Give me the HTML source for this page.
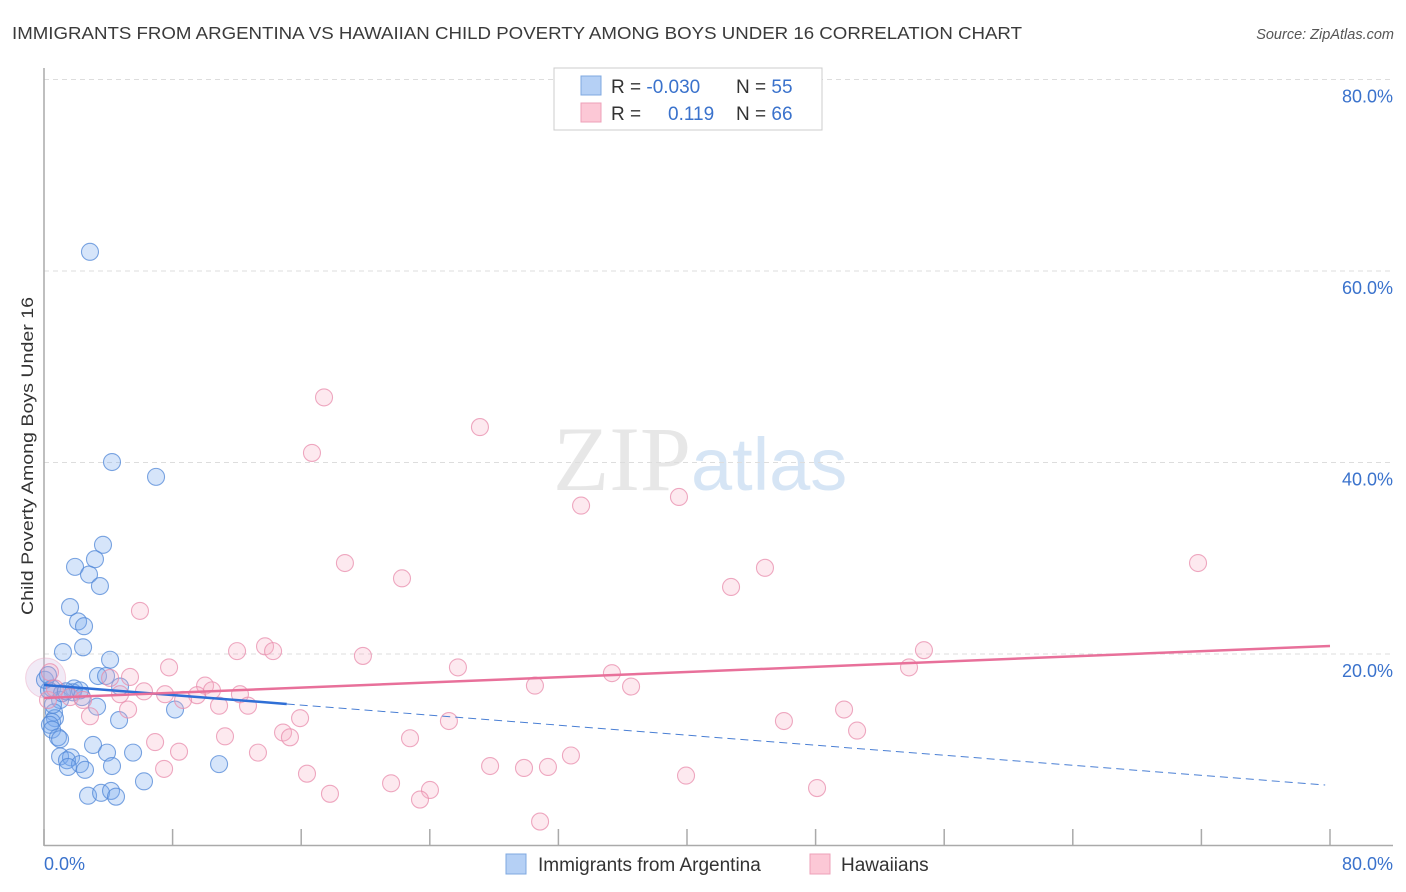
<!DOCTYPE html>
<html><head><meta charset="utf-8"><style>
body{margin:0;background:#fff;font-family:"Liberation Sans",sans-serif;}
svg{display:block}
</style></head><body>
<svg id="chart" width="1406" height="892" xmlns="http://www.w3.org/2000/svg">
<text x="12" y="39" font-size="17.5" fill="#3a3a3a" textLength="1010" lengthAdjust="spacingAndGlyphs">IMMIGRANTS FROM ARGENTINA VS HAWAIIAN CHILD POVERTY AMONG BOYS UNDER 16 CORRELATION CHART</text>
<text x="1394" y="39" font-size="14.5" fill="#555" text-anchor="end" font-style="italic">Source: ZipAtlas.com</text>
<text x="553" y="490" font-size="92" font-family="Liberation Serif" fill="#e2e2e2" opacity="0.8">ZIP<tspan fill="#cddff3" font-family="Liberation Sans" font-size="74">atlas</tspan></text>
<g id="grid"></g>
<g id="axes"></g>
<g id="pts"></g>
<g id="trend"></g>
<text transform="translate(33,456) rotate(-90)" font-size="17" fill="#333" text-anchor="middle" textLength="318" lengthAdjust="spacingAndGlyphs">Child Poverty Among Boys Under 16</text>
<g>
<rect x="554" y="68" width="268" height="62" fill="#fff" stroke="#ccc"/>
<rect x="581" y="76" width="20" height="19" fill="#b5d0f5" stroke="#7fa8e0"/>
<rect x="581" y="103" width="20" height="19" fill="#fcc8d6" stroke="#eea0b8"/>
<text x="611" y="93" font-size="19" fill="#333">R = <tspan fill="#3a72cc">-0.030</tspan><tspan x="736">N = </tspan><tspan fill="#3a72cc">55</tspan></text>
<text x="611" y="120" font-size="19" fill="#333">R = <tspan x="668" fill="#3a72cc">0.119</tspan><tspan x="736">N = </tspan><tspan fill="#3a72cc">66</tspan></text>
</g>
<g>
<rect x="506" y="854" width="20" height="20" fill="#b5d0f5" stroke="#7fa8e0"/>
<text x="538" y="871" font-size="19" fill="#333">Immigrants from Argentina</text>
<rect x="810" y="854" width="20" height="20" fill="#fcc8d6" stroke="#eea0b8"/>
<text x="841" y="871" font-size="19" fill="#333">Hawaiians</text>
</g>
</svg>
<script>
const blueX=[2.86,4.23,6.97,3.67,3.17,1.93,2.80,3.48,1.62,2.12,2.49,2.43,1.18,4.11,0.50,1.87,3.36,3.86,4.73,1.80,2.36,1.00,3.30,0.62,0.68,0.50,4.67,8.15,0.37,0.50,0.87,1.00,3.05,3.92,5.54,1.00,1.68,1.43,2.24,1.49,2.55,4.23,10.89,6.22,2.74,3.55,4.17,4.48,0.31,0.56,1.12,0.06,0.25,1.37,2.24];
const blueY=[62.0,40.05,38.5,31.4,29.9,29.1,28.3,27.1,24.9,23.4,22.9,20.7,20.2,19.4,16.4,16.4,17.7,17.7,16.6,16.0,15.5,15.2,14.5,13.9,13.3,12.9,13.1,14.2,12.6,12.1,11.3,11.1,10.5,9.7,9.7,9.3,9.2,8.9,8.5,8.2,7.9,8.3,8.5,6.7,5.2,5.5,5.7,5.1,16.2,14.7,15.9,17.3,17.8,16.1,16.2];
const pinkX=[17.42,27.12,16.67,39.50,33.41,71.79,18.72,22.27,44.85,42.74,5.97,13.75,14.25,12.01,19.84,54.74,25.75,53.81,7.78,35.33,5.35,4.11,10.02,10.45,6.22,12.19,36.52,30.54,9.52,4.73,1.62,2.43,10.89,12.69,8.65,2.86,15.93,25.19,46.03,49.77,50.58,11.26,14.87,15.30,22.77,6.91,8.40,13.31,32.78,7.47,16.36,27.75,29.86,31.35,39.94,21.59,24.01,17.79,23.39,48.09,30.86,0.37,0.25,0.68,7.53,5.23];
const pinkY=[46.8,43.7,41.0,36.4,35.5,29.5,29.5,27.9,29.0,27.0,24.5,20.8,20.3,20.3,19.8,20.4,18.6,18.6,18.6,18.0,17.6,17.5,16.7,16.2,16.1,15.8,16.6,16.7,15.7,15.8,15.5,15.2,14.6,14.6,15.2,13.5,13.3,13.0,13.0,14.2,12.0,11.4,11.8,11.3,11.2,10.8,9.8,9.7,9.4,8.0,7.5,8.3,8.1,8.2,7.3,6.5,5.8,5.4,4.8,6.0,2.5,18.1,15.2,16.4,15.8,14.2];
const yTicks=[20,40,60,80];
const yTickLabels=["20.0%","40.0%","60.0%","80.0%"];
const xTicks=[0,8,16,24,32,40,48,56,64,72,80];
const blueTrend=[16.76,6.32];
const blueSolidEnd=15.1, blueDashEnd=79.7;
const pinkTrend=[15.4,20.84];
const NS="http://www.w3.org/2000/svg";
const X=v=>44+v*16.075, Y=v=>845.5-v*9.575;
function mk(t,a,p){const e=document.createElementNS(NS,t);for(const k in a)e.setAttribute(k,a[k]);p.appendChild(e);return e;}
const grid=document.getElementById('grid'),axes=document.getElementById('axes'),pts=document.getElementById('pts'),tr=document.getElementById('trend');
yTicks.forEach((t,i)=>{
 const l=mk('line',{x1:44,x2:1393,y1:Y(t),y2:Y(t),stroke:'#ddd','stroke-dasharray':'5,4'},grid);
 
 
 const tx=mk('text',{x:1393,y:Y(t)+23,'font-size':18,fill:'#3a72cc','text-anchor':'end'},axes);
 tx.textContent=yTickLabels[i];
 
 
});
const ya=mk('line',{x1:44,x2:44,y1:68,y2:846,stroke:'#aaa','stroke-width':1.5},axes);


const xa=mk('line',{x1:44,x2:1393,y1:845.5,y2:845.5,stroke:'#aaa','stroke-width':1.5},axes);


xTicks.forEach(t=>{const l=mk('line',{x1:X(t),x2:X(t),y1:829,y2:845,stroke:'#aaa','stroke-width':1.5},axes);
 
 });
const x0=mk('text',{x:44,y:870,'font-size':18,fill:'#3a72cc'},axes);x0.textContent='0.0%';


const x1=mk('text',{x:1393,y:870,'font-size':18,fill:'#3a72cc','text-anchor':'end'},axes);x1.textContent='80.0%';


const bb=mk('circle',{cx:X(0.1),cy:Y(17.5),r:20,fill:'rgba(210,185,225,0.3)',stroke:'rgba(235,165,190,0.45)'},pts);


blueX.forEach((v,i)=>{const c=mk('circle',{cx:X(v),cy:Y(blueY[i]),r:8.5,fill:'rgba(120,168,238,0.3)',stroke:'rgba(80,135,215,0.75)','stroke-width':1.1},pts);
 
 });
pinkX.forEach((v,i)=>{const c=mk('circle',{cx:X(v),cy:Y(pinkY[i]),r:8.5,fill:'rgba(248,175,198,0.28)',stroke:'rgba(232,140,172,0.75)','stroke-width':1.1},pts);
 
 });
const bAt=x=>blueTrend[0]+(blueTrend[1]-blueTrend[0])*x/79.7;
const bd=mk('line',{x1:X(blueSolidEnd),y1:Y(bAt(blueSolidEnd)),x2:X(blueDashEnd),y2:Y(bAt(blueDashEnd)),stroke:'#4a7fd4','stroke-width':1,'stroke-dasharray':'8,5'},tr);


const bs=mk('line',{x1:X(0),y1:Y(bAt(0)),x2:X(blueSolidEnd),y2:Y(bAt(blueSolidEnd)),stroke:'#2f6fd6','stroke-width':2.5},tr);


const pl=mk('line',{x1:X(0),y1:Y(pinkTrend[0]),x2:X(80),y2:Y(pinkTrend[1]),stroke:'#e8709a','stroke-width':2.5},tr);


</script>
</body></html>
